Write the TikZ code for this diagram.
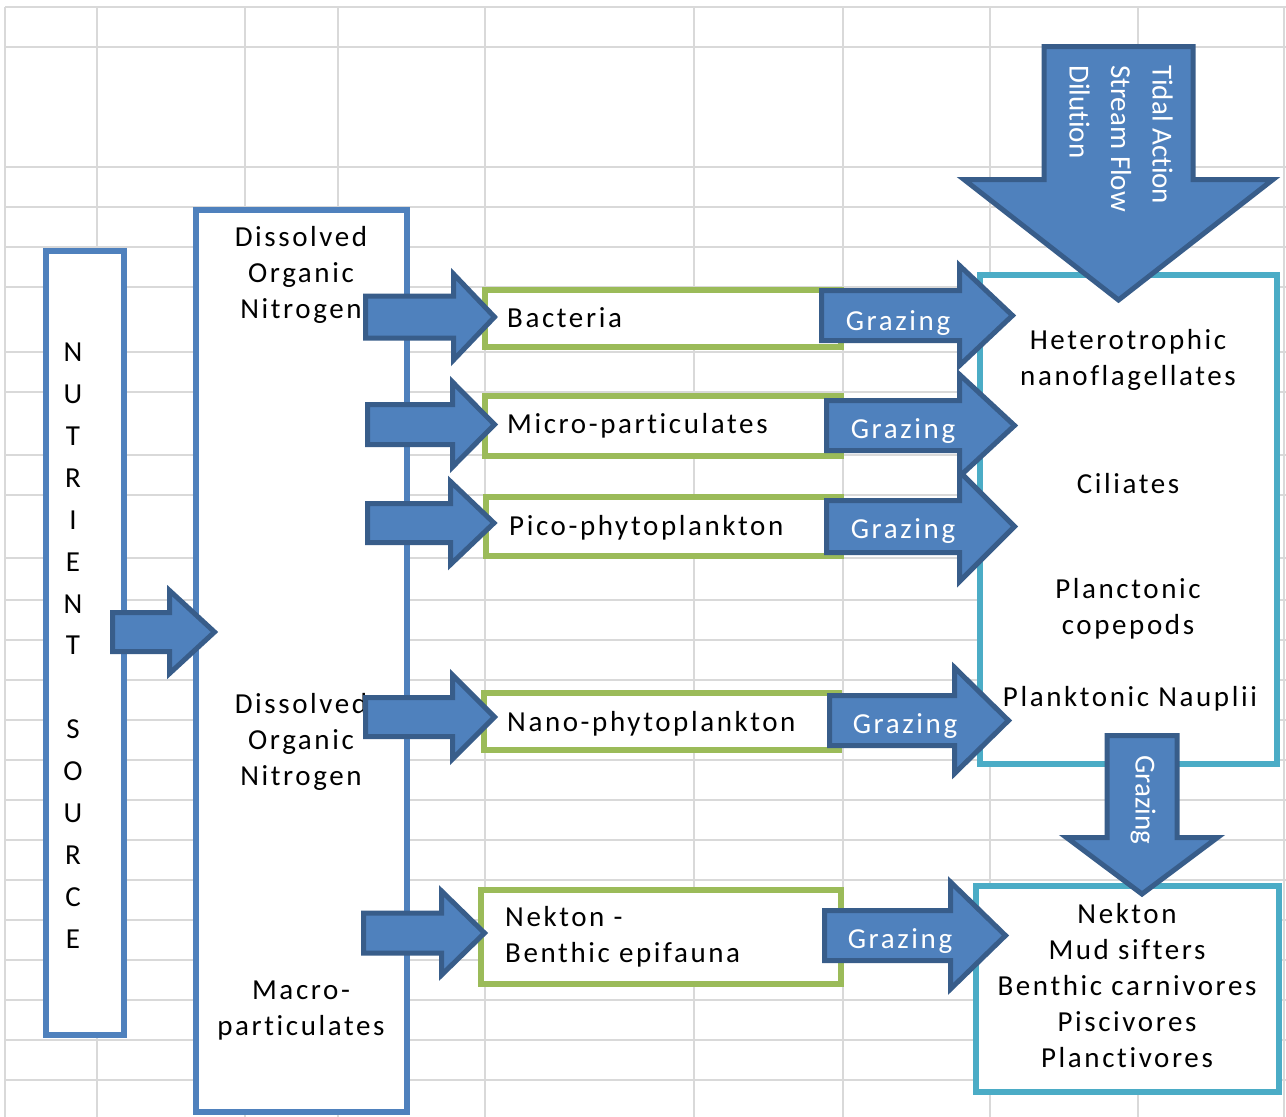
\documentclass[tikz,border=0pt]{standalone}
\usepackage{fontspec}
\setmainfont{Carlito}[Ligatures=NoCommon]
\newfontfamily\widefont{Carlito}[LetterSpace=9, Ligatures=NoCommon]
\usetikzlibrary{fit}

\definecolor{gridgray}{HTML}{D9D9D9}
\definecolor{boxblue}{HTML}{4F81BD}
\definecolor{arrowblue}{HTML}{4F81BD}
\definecolor{arrowedge}{HTML}{385D8A}
\definecolor{leafgreen}{HTML}{9BBB59}
\definecolor{seateal}{HTML}{4BACC6}

\tikzset{
  gridline/.style={gridgray, line width=2},
  srcbox/.style={draw=boxblue, line width=6, fill=white, inner sep=0},
  algbox/.style={draw=leafgreen, line width=5.5, fill=white, inner sep=0},
  grazerbox/.style={draw=seateal, line width=5.5, fill=white, inner sep=0},
  barrow/.style={draw=arrowedge, fill=arrowblue, line width=5},
  lbl/.style={font=\widefont\fontsize{29}{36}\selectfont, align=center, inner sep=0},
  glbl/.style={lbl, text=white},
  vlbl/.style={font=\fontsize{29}{41.5}\selectfont, text=white, rotate=-90, inner sep=0}
}

\begin{document}
\begin{tikzpicture}[x=1pt,y=-1pt]
  \useasboundingbox (0,0) rectangle (1286,1117);
  \fill[white] (0,0) rectangle (1286,1117);

  % sheet grid
  \foreach \gx in {5,97,245,338,485,694,843,990,1138,1284}
    \draw[gridline] (\gx,7) -- (\gx,1117);
  \foreach \gy in {7,47,167,207,247,287,352,392,455,495,558,600,640,680,720,760,800,840,880,920,960,1000,1040,1080}
    \draw[gridline] (5,\gy) -- (1286,\gy);

  % source and nitrogen columns
  \node[srcbox, fit={(46,251) (124,1035)}] (src) {};
  \node[lbl, font=\fontsize{29}{41.86}\selectfont, anchor=base] (srctxt) at (73,948)
    {N\\U\\T\\R\\I\\E\\N\\T\\ \\S\\O\\U\\R\\C\\E};
  \node[srcbox, fit={(196,210) (407,1112)}] (don) {};
  \node[lbl, anchor=base] (don1) at (301,318) {Dissolved\\Organic\\Nitrogen};
  \node[lbl, anchor=base] (don2) at (301,785) {Dissolved\\Organic\\Nitrogen};
  \node[lbl, anchor=base] (macro) at (301,1035) {Macro-\\particulates};

  % primary groups
  \node[algbox, fit={(485,290) (841,347)}] (bact) {};
  \node[algbox, fit={(485,396) (841,456)}] (micro) {};
  \node[algbox, fit={(486,497) (841,556)}] (pico) {};
  \node[algbox, fit={(484,693) (839,750)}] (nano) {};
  \node[algbox, fit={(481,890) (841,984)}] (benth) {};
  \node[lbl, anchor=base west] (bacttxt) at (507,327) {Bacteria};
  \node[lbl, anchor=base west] (microtxt) at (507,433) {Micro-particulates};
  \node[lbl, anchor=base west] (picotxt) at (509,535) {Pico-phytoplankton};
  \node[lbl, anchor=base west] (nanotxt) at (507,731) {Nano-phytoplankton};
  \node[lbl, align=left, anchor=base west] (benthtxt) at (505,962) {Nekton -\\Benthic epifauna};

  % grazers
  \node[grazerbox, fit={(980,275) (1277,764)}] (zoo) {};
  \node[lbl, anchor=base] (hnf) at (1128,385) {Heterotrophic\\nanoflagellates};
  \node[lbl, anchor=base] (cil) at (1128,493) {Ciliates};
  \node[lbl, anchor=base] (cop) at (1128,634) {Planctonic\\copepods};
  \node[lbl, anchor=base] (naup) at (1130,706) {Planktonic Nauplii};
  \node[grazerbox, fit={(976,886) (1279,1092)}] (fish) {};
  \node[lbl, anchor=base] (fishtxt) at (1127,1067)
    {Nekton\\Mud sifters\\Benthic carnivores\\Piscivores\\Planctivores};

  % uptake arrows
  \foreach \xa/\xb/\xc/\yc/\s/\h in {112.5/169.5/214.5/632/19.5/41.5, 365.5/453.5/494.5/317/21/43,
      367.5/452.5/494.5/424.5/20/42.5, 367.5/450.5/494/523/19.5/41.5,
      365.5/452.5/494.5/717/19.5/42, 363.5/441.5/484.5/933/20/42}
    \draw[barrow] (\xa,\yc-\s) -- (\xb,\yc-\s) -- (\xb,\yc-\h) -- (\xc,\yc)
      -- (\xb,\yc+\h) -- (\xb,\yc+\s) -- (\xa,\yc+\s) -- cycle;

  % grazing arrows
  \foreach \xa/\xb/\xc/\yc/\s/\h/\tx/\ty [count=\i] in {821.5/959.5/1012.5/315.5/25/50/898/330,
      826.5/959.5/1014.5/425.5/25/51/903/438, 826.5/959.5/1014.5/526.5/26/55/903/538,
      829.5/954.5/1008.5/720.5/25/53/905/733, 824.5/950.5/1005.5/935.5/25/53.5/900/948} {
    \draw[barrow] (\xa,\yc-\s) -- (\xb,\yc-\s) -- (\xb,\yc-\h) -- (\xc,\yc)
      -- (\xb,\yc+\h) -- (\xb,\yc+\s) -- (\xa,\yc+\s) -- cycle;
    \node[glbl, anchor=base] (graz\i) at (\tx,\ty) {Grazing};
  }

  % downward arrows
  \foreach \xc/\ya/\yb/\yt/\s/\h in {1118.5/46.5/179.5/300/74.5/154.5, 1142/735.5/837.5/894/35/75.5}
    \draw[barrow] (\xc-\s,\ya) -- (\xc-\s,\yb) -- (\xc-\h,\yb) -- (\xc,\yt)
      -- (\xc+\h,\yb) -- (\xc+\s,\yb) -- (\xc+\s,\ya) -- cycle;
  \node[vlbl, align=left, anchor=north west] (flow) at (1173,65) {Tidal Action\\Stream Flow\\Dilution};
  \node[vlbl] (grazdown) at (1143,800) {Grazing};
\end{tikzpicture}
\end{document}
